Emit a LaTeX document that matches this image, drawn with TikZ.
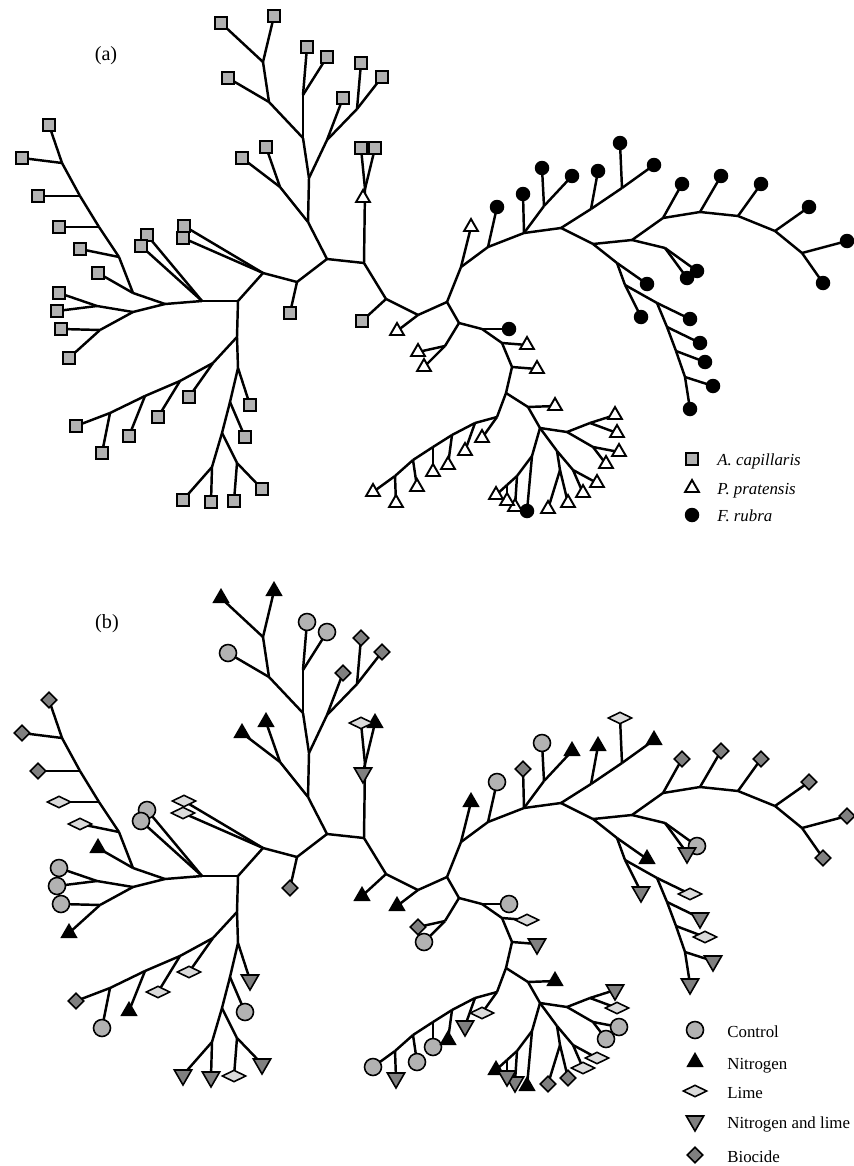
\documentclass[tikz,border=0pt]{standalone}
\usepackage{fontspec}
\setmainfont{Liberation Serif}
\usetikzlibrary{shapes.geometric}
\definecolor{capgrey}{gray}{0.70}
\definecolor{ctlgrey}{gray}{0.70}
\definecolor{limegrey}{gray}{0.86}
\definecolor{darkgrey}{gray}{0.50}

\tikzset{
  branch/.style={line width=1.4pt, line join=round},
  capmark/.style={rectangle, draw, line width=1.4pt, fill=capgrey, minimum size=0.23cm, inner sep=0pt},
  pramark/.style={regular polygon, regular polygon sides=3, draw, line width=1.1pt, fill=white, minimum size=0.32cm, inner sep=0pt},
  rubmark/.style={circle, fill=black, minimum size=0.29cm, inner sep=0pt},
  ctlmark/.style={circle, draw, line width=0.9pt, fill=ctlgrey, minimum size=0.34cm, inner sep=0pt},
  nitmark/.style={regular polygon, regular polygon sides=3, fill=black, minimum size=0.40cm, inner sep=0pt},
  limemark/.style={diamond, draw, line width=0.9pt, fill=limegrey, minimum width=0.48cm, minimum height=0.24cm, inner sep=0pt},
  nlmark/.style={regular polygon, regular polygon sides=3, shape border rotate=180, draw, line width=0.9pt, fill=darkgrey, minimum size=0.40cm, inner sep=0pt},
  biomark/.style={diamond, draw, line width=0.9pt, fill=darkgrey, minimum size=0.32cm, inner sep=0pt},
  panel/.style={inner sep=0pt, font=\fontsize{11.5}{13}\selectfont},
  keytext/.style={anchor=base west, inner sep=0pt, font=\fontsize{9.6}{11}\selectfont}
}

% #1 = prefix of the names, #2 = vertical offset
\newcommand{\plantree}[2]{%
  \foreach \nm/\px/\py in {n0/327/259, n1/364/263, A/308/222, C/280/187, B/309/178, D/303/138,
      E/327/140, F/269/102, G/303/95, H/263/62, I/357/109, J/365/189,
      L/386/299, M/418/315, N/447/302, O/461/267, Q/488/247, R/524/233, S/544/206, T/561/228,
      U/591/209, V/622/188, W/593/244, X/632/240, AA/665/248, BB/663/218, CC/700/212,
      DD/738/216, EE/775/231, FF/802/253, Y/617/263, GG/625/285, HH/657/303, II/667/327,
      JJ/676/351, KK/685/377, P/459/323, P0/445/346, P1/482/329, P2/502/343, P3/512/367,
      P4/506/393, P5/528/407, P6/540/428, P7/497/417, P8/475/423, P9/452/435, P10/433/447,
      P11/413/460, P12/395/476, Q1/567/432, Q2/590/423, Q3/593/447, Q4/557/451, Q5/573/470,
      Q7/560/470, Q8/532/456, Q10/517/476, Q11/507/485,
      m1/297/282, m2/263/273, m3/238/301, m4/202/301, m5/165/304, m6/133/293, m7/133/312,
      m8/119/257, m9/97/306, m10/100/330, m11/99/227, m12/80/196, m13/62/163, m14/237/337,
      m15/213/363, m16/180/381, m17/145/396, m18/110/413, m19/238/368, m20/230/402,
      m21/222/433, m22/237/463, m23/212/467,
      t1/221/23, t2/274/16, t3/228/78, t4/307/47, t5/327/57, t6/343/98, t7/361/63, t8/382/77,
      t9/242/158, t10/266/147, t11/361/148, t12/375/148, t13/363/198,
      s1/49/125, s2/22/158, s3/38/196, s4/59/227, s5/80/249, s6/98/273, s7/59/293, s8/57/311,
      s9/61/329, s10/69/358, s11/147/235, s12/141/246, s13/184/226, s14/183/238, s15/290/313,
      u1/76/426, u2/102/453, u3/129/436, u4/158/417, u5/189/397, u6/250/405, u7/245/437,
      u8/262/489, u9/234/501, u10/211/502, u11/183/500,
      v1/362/321, v2/397/331, v3/418/352, v4/424/367, v5/471/227, v6/497/207, v7/523/194,
      v8/542/168, v9/572/176, v10/598/171, v11/620/143, v12/654/165,
      r1/682/184, r2/721/176, r3/761/184, r4/809/207, r5/847/241, r6/823/283, r7/697/271,
      r8/687/278, r9/647/284, r10/641/317, r11/690/319, r12/700/343, r13/705/362, r14/713/386,
      r15/690/409,
      w1/509/329, w2/527/345, w3/537/369, w4/555/406, w5/482/438, w6/465/451, w7/448/465,
      w8/433/472, w9/417/487, w10/396/503, w11/373/492,
      x1/615/415, x2/617/433, x3/619/452, x4/606/464, x5/597/483, x6/583/493, x7/568/503,
      x8/548/509, x9/527/511, x10/515/507, x11/507/501, x12/496/495}
    \coordinate (#1-\nm) at ({\px},{\py+#2});
  \foreach \u/\v in {n0/n1, n0/A, n0/m1, A/C, A/B, C/t9, C/t10, B/D, B/E, D/F, D/G, F/H, F/t3,
      H/t1, H/t2, G/t4, G/t5, E/t6, E/I, I/t7, I/t8, n1/J, J/t11, J/t12, J/t13, n1/L,
      L/v1, L/M, M/v2, M/N, N/O, N/P, O/v5, O/Q, Q/v6, Q/R, R/v7, R/S, S/v8, S/v9, R/T,
      T/U, U/v10, U/V, V/v11, V/v12, T/W, W/X, X/AA, AA/r7, AA/r8, X/BB, BB/r1, BB/CC,
      CC/r2, CC/DD, DD/r3, DD/EE, EE/r4, EE/FF, FF/r5, FF/r6, W/Y, Y/r9, Y/GG, GG/r10,
      GG/HH, HH/r11, HH/II, II/r12, II/JJ, JJ/r13, JJ/KK, KK/r14, KK/r15,
      P/P0, P0/v3, P0/v4, P/P1, P1/w1, P1/P2, P2/w2, P2/P3, P3/w3, P3/P4, P4/P5, P5/w4,
      P5/P6, P4/P7, P7/w5, P7/P8, P8/w6, P8/P9, P9/w7, P9/P10, P10/w8, P10/P11, P11/w9,
      P11/P12, P12/w10, P12/w11, P6/Q1, Q1/Q2, Q2/x1, Q2/x2, Q1/Q3, Q3/x3, Q3/x4, P6/Q4,
      Q4/Q5, Q5/x5, Q5/x6, Q4/Q7, Q7/x7, Q7/x8, P6/Q8, Q8/x9, Q8/Q10, Q10/x10, Q10/Q11,
      Q11/x11, Q11/x12,
      m1/s15, m1/m2, m2/s13, m2/s14, m2/m3, m3/m4, m4/s11, m4/s12, m4/m5, m5/m6, m6/s6,
      m6/m8, m8/s5, m8/m11, m11/s4, m11/m12, m12/s3, m12/m13, m13/s1, m13/s2, m5/m7,
      m7/m9, m9/s7, m9/s8, m7/m10, m10/s9, m10/s10, m3/m14, m14/m15, m15/u5, m15/m16,
      m16/u4, m16/m17, m17/u3, m17/m18, m18/u1, m18/u2, m14/m19, m19/u6, m19/m20, m20/u7,
      m20/m21, m21/m22, m22/u8, m22/u9, m21/m23, m23/u10, m23/u11}
    \draw[branch] (#1-\u) -- (#1-\v);
}

\begin{document}
\begin{tikzpicture}[x=0.02cm, y=-0.02cm]
        \useasboundingbox (0,0) rectangle (853,1166);

        % (a) species
        \node[panel] (labela) at (106,56) {(a)};
        \plantree{a}{0}
        \foreach \l in {t1,t2,t3,t4,t5,t6,t7,t8,t9,t10,t11,t12,s1,s2,s3,s4,s5,s6,s7,s8,s9,s10,
            s11,s12,s13,s14,s15,u1,u2,u3,u4,u5,u6,u7,u8,u9,u10,u11,v1}
          \node[capmark] (a-\l-mark) at (a-\l) {};
        \foreach \l in {t13,v2,v3,v4,v5,w2,w3,w4,w5,w6,w7,w8,w9,w10,w11,x1,x2,x3,x4,x5,x6,x7,
            x8,x10,x11,x12}
          \node[pramark] (a-\l-mark) at (a-\l) {};
        \foreach \l in {v6,v7,v8,v9,v10,v11,v12,r1,r2,r3,r4,r5,r6,r7,r8,r9,r10,r11,r12,r13,r14,
            r15,w1,x9}
          \node[rubmark] (a-\l-mark) at (a-\l) {};

        \node[capmark] (keycap) at (692,459) {};
        \node[keytext] (keycaptext) at (717,465.5) {\textit{A. capillaris}};
        \node[pramark] (keypra) at (692,488) {};
        \node[keytext] (keypratext) at (717,494.5) {\textit{P. pratensis}};
        \node[rubmark] (keyrub) at (692,515) {};
        \node[keytext] (keyrubtext) at (717,521.5) {\textit{F. rubra}};

        % (b) treatments
        \node[panel] (labelb) at (107,624) {(b)};
        \plantree{b}{575}
        \foreach \l in {t3,t4,t5,s7,s8,s9,s11,s12,u2,u7,v4,v6,v8,r7,w1,w8,w9,w11,x3,x4}
          \node[ctlmark] (b-\l-mark) at (b-\l) {};
        \foreach \l in {t1,t2,t9,t10,t12,s6,s10,u3,v1,v2,v5,v9,v10,v12,r9,w4,w7,x9,x12}
          \node[nitmark] (b-\l-mark) at (b-\l) {};
        \foreach \l in {t11,s4,s5,s13,s14,u4,u5,u9,v11,r11,r13,w2,w5,x2,x5,x6}
          \node[limemark] (b-\l-mark) at (b-\l) {};
        \foreach \l in {t13,u6,u8,u10,u11,r8,r10,r12,r14,r15,w3,w6,w10,x1,x10,x11}
          \node[nlmark] (b-\l-mark) at (b-\l) {};
        \foreach \l in {t6,t7,t8,s1,s2,s3,s15,u1,v3,v7,r1,r2,r3,r4,r5,r6,x7,x8}
          \node[biomark] (b-\l-mark) at (b-\l) {};

        \node[ctlmark] (keyctl) at (695,1030) {};
        \node[keytext] (keyctltext) at (727,1037) {Control};
        \node[nitmark] (keynit) at (695,1062) {};
        \node[keytext] (keynittext) at (727,1069) {Nitrogen};
        \node[limemark] (keylime) at (695,1091) {};
        \node[keytext] (keylimetext) at (727,1098) {Lime};
        \node[nlmark] (keynl) at (695,1121) {};
        \node[keytext] (keynltext) at (727,1128) {Nitrogen and lime};
        \node[biomark] (keybio) at (695,1155) {};
        \node[keytext] (keybiotext) at (727,1162) {Biocide};
\end{tikzpicture}
\end{document}
